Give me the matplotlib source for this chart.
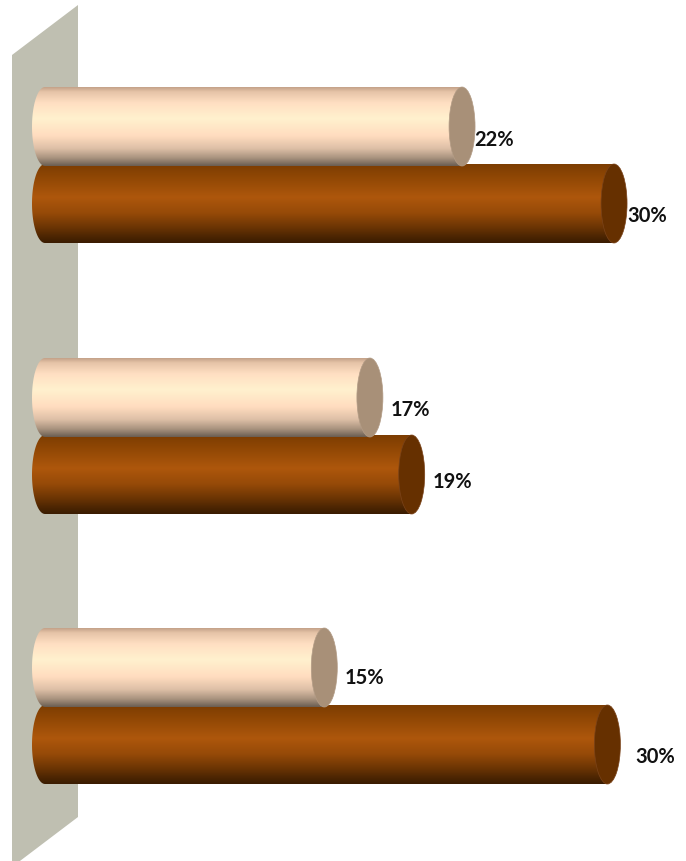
import numpy as np
import matplotlib
matplotlib.use("Agg")
import matplotlib.pyplot as plt
from matplotlib.colors import LinearSegmentedColormap
from matplotlib.patches import Ellipse, Polygon, PathPatch
from matplotlib.path import Path

# Data (the labels are the rounded values printed in the chart)
groups = [0, 1, 2]
light_values = [21.95, 17.1, 14.7]
dark_values = [29.95, 19.3, 29.6]
light_labels = ["22%", "17%", "15%"]
dark_labels = ["30%", "19%", "30%"]

# Style / layout
W, H = 686, 862
PX_PER_PCT = 19.0
ORIGIN_PX = 45.0
GROUP_PX = [166, 437, 707]
SPACING_PX = 270.5
BAR_H = 79 / SPACING_PX
OFFSET = 38.5 / SPACING_PX
CAP_HALF_W = 13 / PX_PER_PCT

light_cmap = LinearSegmentedColormap.from_list("light", [
    (0.00, "#C4A289"), (0.06, "#E6C4A8"), (0.20, "#FFDFC2"), (0.40, "#FFF1CE"),
    (0.62, "#FFDCBF"), (0.78, "#DDBFA6"), (0.90, "#A8927E"), (1.00, "#6A5E52")])
dark_cmap = LinearSegmentedColormap.from_list("dark", [
    (0.00, "#7C3D02"), (0.15, "#8E4604"), (0.42, "#AE570C"), (0.62, "#964A08"),
    (0.80, "#6C3504"), (0.92, "#4C2502"), (1.00, "#3A1C01")])
LIGHT_CAP, LIGHT_RIM = "#A89078", "#B39C86"
DARK_CAP, DARK_RIM = "#663000", "#7A431A"

fig = plt.figure(figsize=(W / 100, H / 100), dpi=100, facecolor="white")
ax = fig.add_axes([0, 0, 1, 1])
ax.axis("off")

# Back wall
wall = np.array([[12, 56], [78, 6], [78, 818], [12, 868]], dtype=float)
wall_fig = np.column_stack([wall[:, 0] / W, 1 - wall[:, 1] / H])
ax.add_patch(Polygon(wall_fig, closed=True, transform=fig.transFigure,
                     facecolor="#BFBFB1", edgecolor="none", zorder=1))

ramp = np.linspace(0, 1, 256).reshape(-1, 1)
centres = (np.array(GROUP_PX) - GROUP_PX[0]) / SPACING_PX
y_pos = centres[np.array(groups)]


def cylinder(value, y, cmap, cap, rim, z):
    top, bottom = y - BAR_H / 2, y + BAR_H / 2
    t = np.linspace(np.pi / 2, 3 * np.pi / 2, 60)
    xs = CAP_HALF_W * np.cos(t)
    ys = y - BAR_H / 2 * np.sin(t)
    verts = np.column_stack([xs, ys])
    verts = np.vstack([[value, top], verts, [value, bottom], [value, top]])
    clip = PathPatch(Path(verts), transform=ax.transData, facecolor="none",
                     edgecolor="none", zorder=z)
    ax.add_patch(clip)
    im = ax.imshow(ramp, cmap=cmap, vmin=0, vmax=1, aspect="auto", zorder=z,
                   extent=(-CAP_HALF_W, value, bottom, top), interpolation="bilinear")
    im.set_clip_path(clip)
    ax.add_patch(Ellipse((value, y), 2 * CAP_HALF_W, BAR_H, facecolor=cap,
                         edgecolor=rim, linewidth=0.5, zorder=z + 0.1))


def label(value, y, text, dx, dy):
    ax.annotate(text, xy=(value, y), xytext=(dx, -dy), textcoords="offset pixels",
                ha="center", va="center", family="Lato", fontweight="bold",
                fontsize=14.5, color="#111111", zorder=9)


light_dx, light_dy = [32, 41, 40], [12, 11.5, 10]
dark_dx, dark_dy = [33, 41, 47.5], [11, 7, 11.5]

for i in range(len(groups)):
    cylinder(dark_values[i], y_pos[i] + OFFSET, dark_cmap, DARK_CAP, DARK_RIM, 3)
    cylinder(light_values[i], y_pos[i] - OFFSET, light_cmap, LIGHT_CAP, LIGHT_RIM, 4)
    label(light_values[i], y_pos[i] - OFFSET, light_labels[i], light_dx[i], light_dy[i])
    label(dark_values[i], y_pos[i] + OFFSET, dark_labels[i], dark_dx[i], dark_dy[i])

ax.set_xlim(-ORIGIN_PX / PX_PER_PCT, (W - ORIGIN_PX) / PX_PER_PCT)
ax.set_ylim((H - GROUP_PX[0]) / SPACING_PX, -GROUP_PX[0] / SPACING_PX)

fig.savefig("out.png", dpi=100, facecolor="white")
